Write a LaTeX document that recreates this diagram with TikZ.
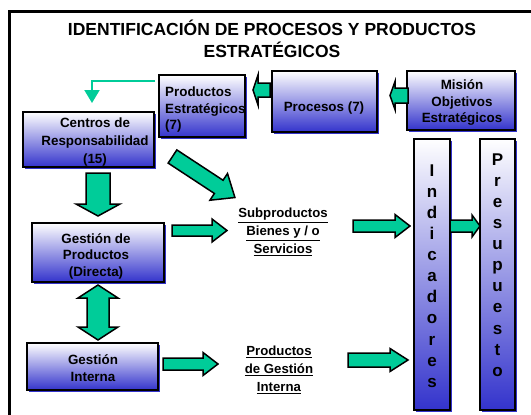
\documentclass[tikz,border=0pt]{standalone}
\usepackage{fontspec}
\setmainfont{Liberation Sans}
\usetikzlibrary{fit,shadows,arrows.meta}
\definecolor{boxblue}{RGB}{51,51,204}
\definecolor{agreen}{RGB}{0,204,153}
\newcommand\setfs[2]{\fontsize{#1}{#2}\selectfont}
% block arrow: tail x, tail y, angle, length, half shaft, half head, head length
\newcommand\garrow[7]{%
  \begin{scope}[shift={(#1,#2)}, rotate=#3]
    \draw[blockarr] (0,#5) -- ({#4-#7},#5) -- ({#4-#7},#6) -- (#4,0)
      -- ({#4-#7},-#6) -- ({#4-#7},-#5) -- (0,-#5) -- cycle;
  \end{scope}}
% double block arrow: start x, start y, angle, length, half shaft, half head, head length
\newcommand\gdarrow[7]{%
  \begin{scope}[shift={(#1,#2)}, rotate=#3]
    \draw[blockarr] (0,0) -- (#7,#6) -- (#7,#5) -- ({#4-#7},#5) -- ({#4-#7},#6)
      -- (#4,0) -- ({#4-#7},-#6) -- ({#4-#7},-#5) -- (#7,-#5) -- (#7,-#6) -- cycle;
  \end{scope}}
\begin{document}
\begin{tikzpicture}[x=1pt,y=-1pt,
  box/.style={draw=black, line width=1.3pt, top color=white, bottom color=boxblue,
    inner sep=0pt, drop shadow={shadow xshift=2pt, shadow yshift=-2pt, fill=boxblue, opacity=1}},
  lbl/.style={font=\bfseries\setfs{13.4}{16.5}, align=center, inner sep=0pt},
  ulbl/.style={font=\bfseries\setfs{13.2}{18}, align=center, inner sep=0pt},
  letters/.style={font=\bfseries\setfs{17}{21.1}, align=center, inner sep=0pt},
  titlestyle/.style={font=\bfseries\setfs{17.5}{22}, align=center, inner sep=0pt},
  blockarr/.style={draw=black, fill=agreen, line width=1.5pt, line join=miter},
  gline/.style={draw=agreen, line width=2pt, -{Triangle[width=15pt,length=13pt]}}]
\useasboundingbox (0,0) rectangle (531,415);
% frame
\draw[line width=3pt] (9.5,425) -- (9.5,11.5) -- (540,11.5);
% title
\node[titlestyle] (title) at (272,38.5) {IDENTIFICACIÓN DE PROCESOS Y PRODUCTOS\\ESTRATÉGICOS};
% boxes
\node[box, fit={(159,75) (245,137)}] (pe) {};
\node[box, fit={(272,71) (377,132)}] (pr) {};
\node[box, fit={(407,71) (515,130)}] (mi) {};
\node[box, fit={(23,112) (154,167)}] (cr) {};
\node[box, fit={(32,223) (164,282)}] (gp) {};
\node[box, fit={(27,343) (158,390)}] (gi) {};
\node[box, fit={(414,139) (450,410)}] (ind) {};
\node[box, fit={(480,139) (515,410)}] (pre) {};
% box labels
\node[lbl, align=left, anchor=west] (pet) at (165,110) {Productos\\Estratégicos\\(7)};
\node[lbl] (prt) at (324,108) {Procesos (7)};
\node[lbl] (mit) at (462,103) {Misión\\Objetivos\\Estratégicos};
\node[lbl, font=\bfseries\setfs{13.4}{18}] (crt) at (95,142) {Centros de\\Responsabilidad\\(15)};
\node[lbl] (gpt) at (96,256) {Gestión de\\Productos\\(Directa)};
\node[lbl] (git) at (93,368) {Gestión\\Interna};
\node[letters] (indt) at (432,276) {I\\n\\d\\i\\c\\a\\d\\o\\r\\e\\s};
\node[letters] (pret) at (497.5,265) {P\\r\\e\\s\\u\\p\\u\\e\\s\\t\\o};
% free texts
\node[ulbl] (sub) at (283,232) {\underline{Subproductos}\\\underline{Bienes y / o}\\\underline{Servicios}};
\node[ulbl] (pgi) at (279,370) {\underline{Productos}\\\underline{de Gestión}\\\underline{Interna}};
% green line connector
\coordinate (gs) at (155,81);
\coordinate (ge) at (92,103);
\draw[gline] (gs) -| (ge);
% block arrows
\garrow{270}{90}{180}{17}{7}{15}{5}
\garrow{408}{95.5}{180}{18}{7.5}{14}{5}
\garrow{172.5}{156.5}{-33.3}{74.7}{7.9}{16}{19.4}
\garrow{98}{173}{-90}{43}{12}{22}{12}
\gdarrow{98}{285}{-90}{55}{11}{20}{13}
\garrow{172}{230.5}{0}{55}{5.5}{11.5}{15}
\garrow{353}{226}{0}{57}{6}{11.5}{15}
\garrow{450}{226}{0}{30}{6}{11}{8}
\garrow{163}{364}{0}{55}{6}{11.5}{15}
\garrow{348}{360}{0}{60}{7}{11.5}{18}
\end{tikzpicture}
\end{document}
